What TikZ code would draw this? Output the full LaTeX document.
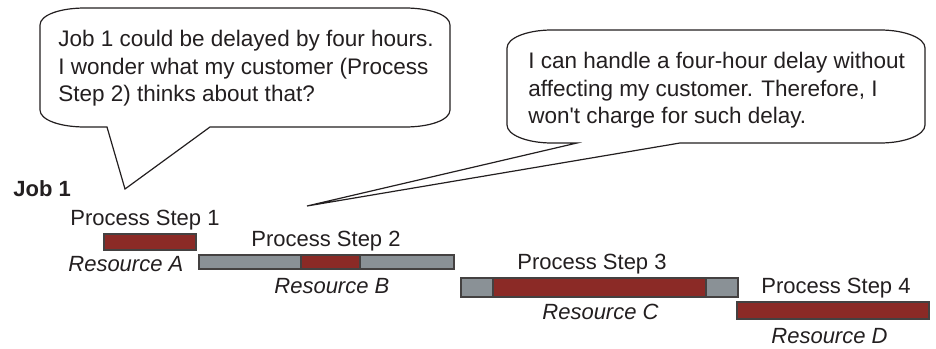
\documentclass[tikz,border=0pt]{standalone}
\usepackage{fontspec}
\setmainfont{Liberation Sans}
\definecolor{barred}{HTML}{8B2A26}
\definecolor{bargray}{HTML}{8A9196}
\definecolor{ink}{HTML}{231F20}
\begin{document}
\begin{tikzpicture}[x=0.5pt,y=0.5pt]
\useasboundingbox (0,0) rectangle (936,-348);

\tikzset{say/.style={anchor=north west,inner sep=0pt,align=left,text=ink,font=\fontsize{11.25}{13.75}\selectfont}};
\tikzset{lbl/.style={anchor=base west,inner sep=0pt,text=ink,font=\fontsize{11}{13}\selectfont}};
\tikzset{bubble/.style={draw=ink,line width=0.6pt,fill=white}};
\tikzset{busy/.style={draw=ink!85,line width=0.9pt,fill=barred}};
\tikzset{idle/.style={draw=ink!85,line width=0.9pt,fill=bargray}};

% speech bubbles
\coordinate (tip1) at (125,-189);
\coordinate (tip2) at (307,-206);
\path[bubble] (40,-25) .. controls (40,-15) and (60,-8) .. (85,-8) -- (405,-8)
  .. controls (430,-8) and (450,-15) .. (450,-25) -- (450,-110)
  .. controls (450,-120) and (430,-127) .. (405,-127) -- (210,-127) -- (tip1)
  -- (107,-127) -- (85,-127) .. controls (60,-127) and (40,-120) .. (40,-110) -- cycle;
\path[bubble] (507,-48) .. controls (507,-38) and (527,-30) .. (552,-30) -- (880,-30)
  .. controls (905,-30) and (925,-38) .. (925,-48) -- (925,-125)
  .. controls (925,-135) and (905,-143) .. (880,-143) -- (680,-143) -- (tip2)
  -- (577,-143) -- (552,-143) .. controls (527,-143) and (507,-135) .. (507,-125) -- cycle;

\node[say] (say1) at (58,-30) {Job 1 could be delayed by four hours.\\I wonder what my customer (Process\\Step 2) thinks about that?};
\node[say] (say2) at (528,-52) {I can handle a four-hour delay without\\affecting my customer. Therefore, I\\won\textquotesingle t charge for such delay.};

% job and its steps
\node[lbl,font=\fontsize{11}{13}\selectfont\bfseries] (job) at (13,-196) {Job 1};

\draw[busy] (104,-234) rectangle (196,-250);
\node[lbl] (step1) at (70,-225) {Process Step 1};
\node[lbl,font=\fontsize{11}{13}\selectfont\itshape] (resA) at (68,-271) {Resource A};

\draw[idle] (199,-255) rectangle (454,-269);
\draw[busy] (301,-255) rectangle (360,-269);
\node[lbl] (step2) at (251,-246) {Process Step 2};
\node[lbl,font=\fontsize{11}{13}\selectfont\itshape] (resB) at (274,-293) {Resource B};

\draw[idle] (461,-278) rectangle (738,-297);
\draw[busy] (493,-278) rectangle (706,-297);
\node[lbl] (step3) at (517,-269) {Process Step 3};
\node[lbl,font=\fontsize{11}{13}\selectfont\itshape] (resC) at (542,-319) {Resource C};

\draw[busy] (737,-302) rectangle (929,-319);
\node[lbl] (step4) at (761,-293) {Process Step 4};
\node[lbl,font=\fontsize{11}{13}\selectfont\itshape] (resD) at (771,-343) {Resource D};
\end{tikzpicture}
\end{document}
